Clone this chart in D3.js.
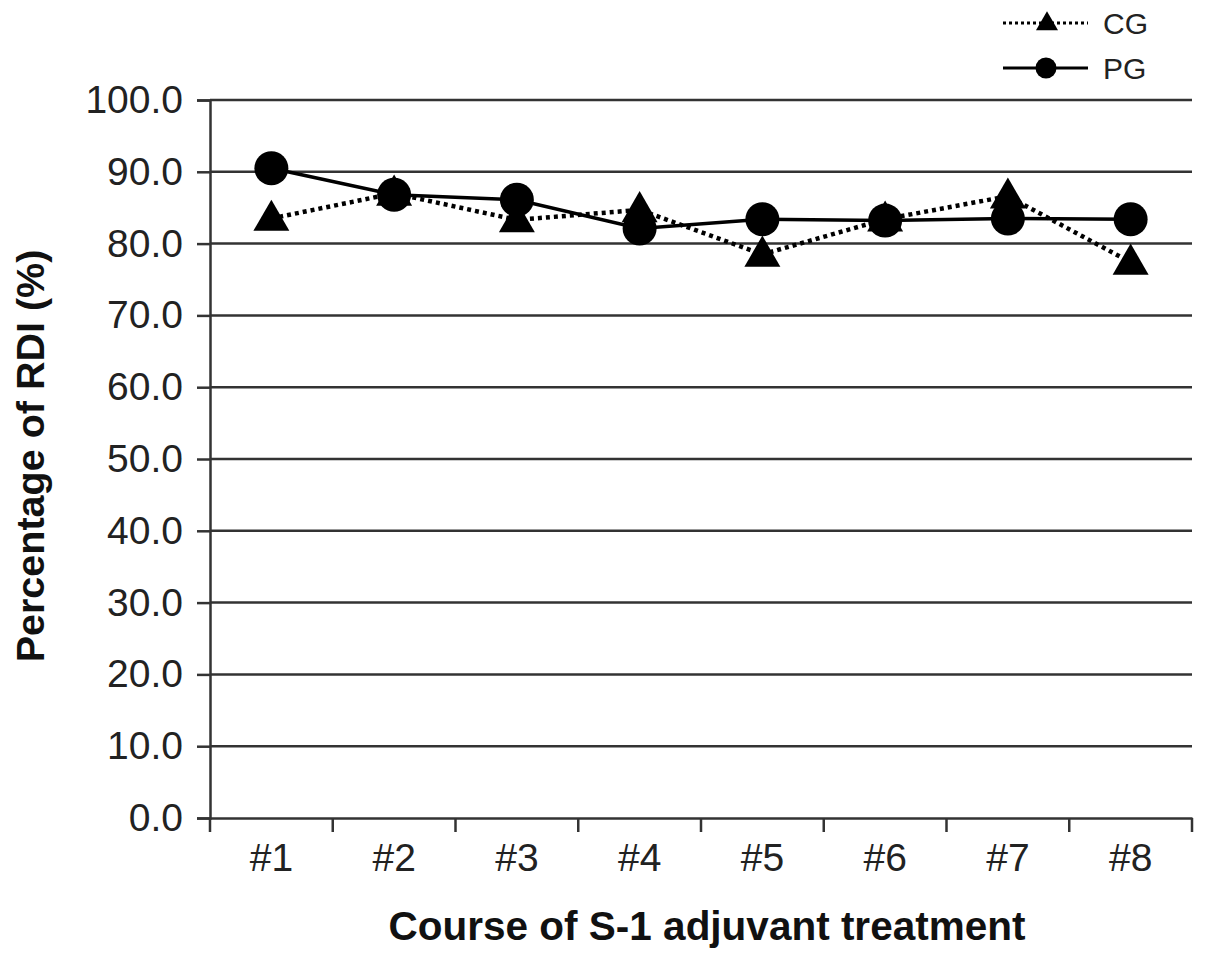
<!DOCTYPE html>
<html>
<head>
<meta charset="utf-8">
<script src="https://cdn.jsdelivr.net/npm/d3@7"></script>
<style>
  body { margin: 0; background: #fff; }
  svg { font-family: "Liberation Sans", Arial, sans-serif; }
</style>
</head>
<body>
<div class="chart"></div>
<script>
const courses = ["#1", "#2", "#3", "#4", "#5", "#6", "#7", "#8"];
const cgValues = [83.5, 87.0, 83.3, 84.7, 78.5, 83.4, 86.6, 77.4];
const pgValues = [90.5, 86.8, 86.1, 82.1, 83.4, 83.2, 83.5, 83.4];
const yTicks = [0, 10, 20, 30, 40, 50, 60, 70, 80, 90, 100];

const width = 1205;
const height = 960;
const margin = { top: 100, right: 13, bottom: 142, left: 210 };

const svg = d3.select(".chart")
    .append("svg")
    .attr("width", width)
    .attr("height", height);

const x = d3.scaleBand()
    .domain(courses)
    .range([margin.left, width - margin.right]);

const y = d3.scaleLinear()
    .domain([0, 100])
    .range([height - margin.bottom, margin.top]);

const axisColor = "#333";

// horizontal grid lines
svg.append("g")
    .selectAll("line")
    .data(yTicks.filter(d => d > 0))
    .enter()
    .append("line")
    .attr("x1", margin.left)
    .attr("x2", width - margin.right)
    .attr("y1", d => y(d))
    .attr("y2", d => y(d))
    .attr("stroke", axisColor)
    .attr("stroke-width", 2.5);

// y axis
const yAxis = svg.append("g")
    .attr("transform", `translate(${margin.left},0)`)
    .call(d3.axisLeft(y).tickValues(yTicks).tickFormat(d3.format(".1f")).tickSize(13).tickPadding(14));
yAxis.select(".domain").attr("stroke", axisColor).attr("stroke-width", 2.5);
yAxis.selectAll(".tick line").attr("stroke", axisColor).attr("stroke-width", 2.5);
yAxis.selectAll(".tick text")
    .attr("fill", "#222")
    .style("font-size", "39px");

// x axis
const xAxis = svg.append("g")
    .attr("transform", `translate(0,${y(0)})`)
    .call(d3.axisBottom(x).tickSize(0).tickPadding(25));
xAxis.select(".domain").attr("stroke", axisColor).attr("stroke-width", 2.5);
xAxis.selectAll(".tick text")
    .attr("fill", "#222")
    .style("font-size", "39px");

// x tick marks at band edges
const edges = courses.map(d => x(d)).concat([x.range()[1]]);
svg.append("g")
    .selectAll("line")
    .data(edges)
    .enter()
    .append("line")
    .attr("x1", d => d)
    .attr("x2", d => d)
    .attr("y1", y(0))
    .attr("y2", y(0) + 14)
    .attr("stroke", axisColor)
    .attr("stroke-width", 2.5);

// axis titles
svg.append("text")
    .attr("x", 707)
    .attr("y", 940)
    .attr("text-anchor", "middle")
    .style("font-size", "40.5px")
    .style("font-weight", "bold")
    .attr("fill", "#111")
    .text("Course of S-1 adjuvant treatment");

svg.append("text")
    .attr("transform", "translate(44,456) rotate(-90)")
    .attr("text-anchor", "middle")
    .style("font-size", "39.5px")
    .style("font-weight", "bold")
    .attr("fill", "#111")
    .text("Percentage of RDI (%)");

const cx = d => x(d) + x.bandwidth() / 2;
const line = d3.line();
const triangle = d3.symbol().type(d3.symbolTriangle).size(560);

// CG dotted line + triangles
const cgPoints = courses.map((c, i) => [cx(c), y(cgValues[i])]);
svg.append("path")
    .attr("d", line(cgPoints))
    .attr("fill", "none")
    .attr("stroke", "#000")
    .attr("stroke-width", 4.5)
    .attr("stroke-dasharray", "4,4");

svg.append("g")
    .selectAll("path")
    .data(cgPoints)
    .enter()
    .append("path")
    .attr("d", triangle)
    .attr("transform", d => `translate(${d[0]},${d[1] + 2})`)
    .attr("fill", "#000");

// PG solid line + circles
const pgPoints = courses.map((c, i) => [cx(c), y(pgValues[i])]);
svg.append("path")
    .attr("d", line(pgPoints))
    .attr("fill", "none")
    .attr("stroke", "#000")
    .attr("stroke-width", 3.5);

svg.append("g")
    .selectAll("circle")
    .data(pgPoints)
    .enter()
    .append("circle")
    .attr("cx", d => d[0])
    .attr("cy", d => d[1])
    .attr("r", 17)
    .attr("fill", "#000");

// legend
const legend = svg.append("g").attr("transform", "translate(1003,0)");
legend.append("line")
    .attr("x1", 0).attr("x2", 85).attr("y1", 23).attr("y2", 23)
    .attr("stroke", "#000").attr("stroke-width", 3).attr("stroke-dasharray", "3,3");
legend.append("path")
    .attr("d", d3.symbol().type(d3.symbolTriangle).size(210))
    .attr("transform", "translate(44,24)")
    .attr("fill", "#000");
legend.append("line")
    .attr("x1", 0).attr("x2", 85).attr("y1", 68).attr("y2", 68)
    .attr("stroke", "#000").attr("stroke-width", 3);
legend.append("circle")
    .attr("cx", 43).attr("cy", 68).attr("r", 10.5).attr("fill", "#000");
legend.append("text")
    .attr("x", 100).attr("y", 34)
    .style("font-size", "30px").attr("fill", "#222").text("CG");
legend.append("text")
    .attr("x", 100).attr("y", 79)
    .style("font-size", "30px").attr("fill", "#222").text("PG");
</script>
</body>
</html>
